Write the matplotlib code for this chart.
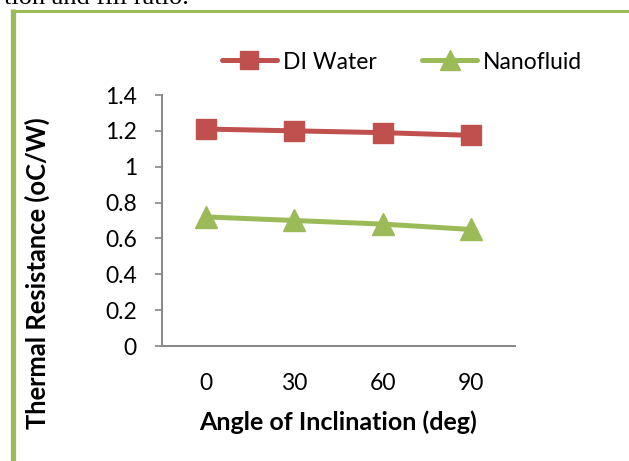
import matplotlib
matplotlib.use("Agg")
import matplotlib.pyplot as plt
from matplotlib.lines import Line2D

categories = ["0", "30", "60", "90"]
di_water = [1.21, 1.20, 1.19, 1.175]
nanofluid = [0.72, 0.70, 0.68, 0.65]
y_ticks = [0, 0.2, 0.4, 0.6, 0.8, 1.0, 1.2, 1.4]
y_tick_labels = ["0", "0.2", "0.4", "0.6", "0.8", "1", "1.2", "1.4"]

RED = "#C0504D"
GREEN = "#9BBB59"
AXIS = "#868686"
FONT = "Lato"
FS = 16.5

W, H = 629, 461
fig = plt.figure(figsize=(W / 100, H / 100), dpi=100)
fig.patch.set_facecolor("white")

# green border
fig.add_artist(Line2D([13 / W, 13 / W], [0, 1 - 9.5 / H], color=GREEN, lw=3.8,
                      transform=fig.transFigure, solid_capstyle="butt"))
fig.add_artist(Line2D([10.5 / W, 1], [1 - 11 / H, 1 - 11 / H], color=GREEN, lw=2.2,
                      transform=fig.transFigure, solid_capstyle="butt"))
# cut-off text above
fig.text(4 / W, 1 - 4 / H, "tion and fill ratio.", family="Liberation Serif",
         fontsize=19, ha="left", va="baseline")

ax = fig.add_axes([162 / W, 1 - 346 / H, (515 - 162) / W, (346 - 95) / H])
x = list(range(len(categories)))
ax.plot(x, di_water, color=RED, lw=3.6, marker="s", ms=14.2, mec=RED, mfc=RED,
        label="DI Water", solid_capstyle="round")
ax.plot(x, nanofluid, color=GREEN, lw=3.6, marker="^", ms=15.5, mec=GREEN, mfc=GREEN,
        label="Nanofluid", solid_capstyle="round")

ax.set_xlim(-0.5, len(categories) - 0.5)
ax.set_ylim(0, 1.4)
ax.set_yticks(y_ticks)
ax.set_yticklabels(y_tick_labels, family=FONT, fontsize=FS)
ax.set_xticks(x)
ax.set_xticklabels(categories, family=FONT, fontsize=FS)
ax.tick_params(axis="x", length=0, pad=19.4)
ax.tick_params(axis="y", length=5, width=1.2, color=AXIS, pad=13, direction="out")
for s in ["top", "right"]:
    ax.spines[s].set_visible(False)
for s in ["left", "bottom"]:
    ax.spines[s].set_color(AXIS)
    ax.spines[s].set_linewidth(1.4)

fig.text((200 + 477) / 2 / W, 1 - 422 / H, "Angle of Inclination (deg)", family=FONT,
         fontweight="bold", fontsize=18, ha="center", va="center")
fig.text(37 / W, 1 - 273 / H, "Thermal Resistance (oC/W)", family=FONT,
         fontweight="bold", fontsize=18.4, ha="center", va="center", rotation=90)

leg = fig.legend(loc="center", bbox_to_anchor=(402 / W, 1 - 62 / H), ncol=2,
                 frameon=False, prop={"family": FONT, "size": FS},
                 handlelength=2.4, columnspacing=2.0, handletextpad=0.25,
                 markerscale=0.95)

fig.savefig("out.png", dpi=100, facecolor="white")
